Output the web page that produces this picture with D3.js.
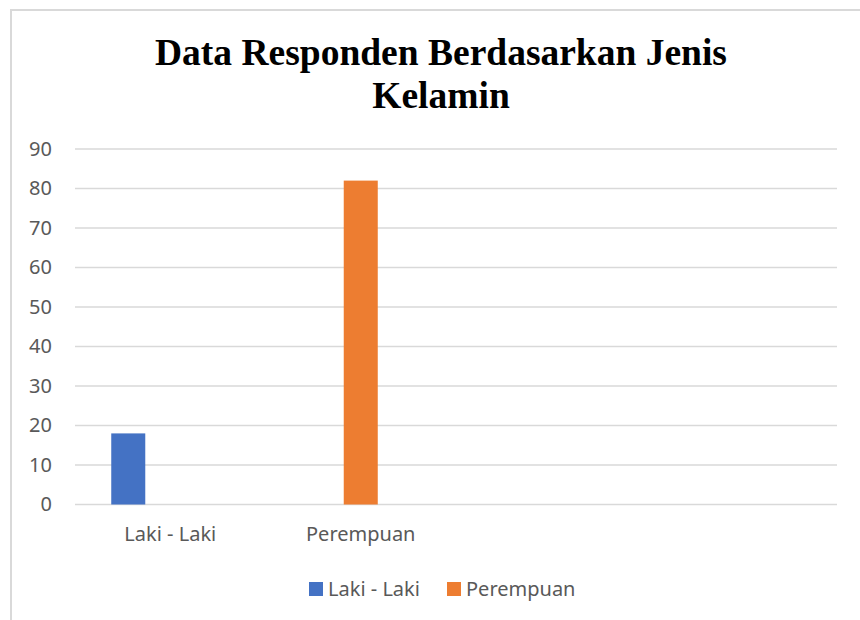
<!DOCTYPE html>
<html>
<head>
  <meta charset="utf-8">
  <title>Data Responden Berdasarkan Jenis Kelamin</title>
  <style>
    body { margin: 0; background: #fff; }
    svg { display: block; }
  </style>
</head>
<body>
<div id="chart"></div>
<script src="https://cdn.jsdelivr.net/npm/d3@7"></script>
<script>
// categories on the x axis (the last two are empty in the original sheet)
const categories = ["Laki - Laki", "Perempuan", "", ""];
// series shown in the legend
const seriesNames = ["Laki - Laki", "Perempuan"];
// values per category for each series
const lakiValues = [18, 0, 0, 0];
const perempuanValues = [0, 82, 0, 0];
const yTicks = [0, 10, 20, 30, 40, 50, 60, 70, 80, 90];
const titleLines = ["Data Responden Berdasarkan Jenis", "Kelamin"];

const colors = { "Laki - Laki": "#4472c4", "Perempuan": "#ed7d31" };
const W = 860, H = 620;
const margin = { top: 149, bottom: 115.5, left: 75, right: 23 };

const svg = d3.select("#chart").append("svg")
  .attr("width", W)
  .attr("height", H);

// chart frame (only top/left edges are visible in the crop)
svg.append("rect")
  .attr("x", 11).attr("y", 10)
  .attr("width", W + 20).attr("height", H + 20)
  .attr("fill", "#fff")
  .attr("stroke", "#d9d9d9")
  .attr("stroke-width", 2);

//******* title *******
svg.append("text")
  .attr("text-anchor", "middle")
  .style("font-family", "'Liberation Serif', 'Times New Roman', serif")
  .style("font-weight", "bold")
  .style("font-size", "37.5px")
  .attr("fill", "#000")
  .selectAll("tspan")
  .data(titleLines)
  .join("tspan")
  .attr("x", 441)
  .attr("y", (d, i) => 65 + i * 43)
  .text(d => d);

//******* scales *******
const x = d3.scaleBand()
  .domain(d3.range(categories.length))
  .range([margin.left, W - margin.right]);

// three slots per category, like the workbook's clustered layout
const slot = d3.scaleBand()
  .domain([0, 1, 2])
  .range([-59, 59])
  .paddingInner(0.19);

const y = d3.scaleLinear()
  .domain([0, 90])
  .range([H - margin.bottom, margin.top]);

//******* gridlines + y labels *******
svg.append("g")
  .selectAll("line")
  .data(yTicks)
  .join("line")
  .attr("x1", margin.left)
  .attr("x2", W - margin.right)
  .attr("y1", d => y(d))
  .attr("y2", d => y(d))
  .attr("stroke", "#d9d9d9")
  .attr("stroke-width", 1.5);

const yAxis = svg.append("g")
  .attr("transform", `translate(${margin.left - 23},0)`)
  .call(d3.axisLeft(y).tickValues(yTicks).tickSize(0).tickPadding(0));
yAxis.select(".domain").remove();
yAxis.selectAll("text")
  .style("font-family", "'Noto Sans', 'Open Sans', sans-serif")
  .style("font-size", "20px")
  .attr("fill", "#595959");

//******* x labels *******
const xAxis = svg.append("g")
  .attr("transform", `translate(0,${H - margin.bottom})`)
  .call(d3.axisBottom(x).tickSize(0).tickPadding(22).tickFormat(i => categories[i]));
xAxis.select(".domain").remove();
xAxis.selectAll("text")
  .style("font-family", "'Noto Sans', 'Open Sans', sans-serif")
  .style("font-size", "20px")
  .attr("fill", "#595959");

//******* bars *******
const seriesValues = [lakiValues, perempuanValues];
seriesNames.forEach(function(name, s) {
  svg.append("g")
    .selectAll("rect")
    .data(seriesValues[s].map((v, i) => ({ i: i, v: v })).filter(d => d.v > 0))
    .join("rect")
    .attr("x", d => x(d.i) + x.bandwidth() / 2 + slot(s))
    .attr("width", slot.bandwidth())
    .attr("y", d => y(d.v))
    .attr("height", d => y(0) - y(d.v))
    .attr("fill", colors[name]);
});

//******* legend *******
const legendX = [309, 447];
const legend = svg.append("g")
  .selectAll("g")
  .data(seriesNames)
  .join("g")
  .attr("transform", (d, i) => `translate(${legendX[i]},582)`);
legend.append("rect")
  .attr("width", 14).attr("height", 14)
  .attr("fill", d => colors[d]);
legend.append("text")
  .attr("x", 19).attr("y", 7)
  .attr("dy", "0.35em")
  .style("font-family", "'Noto Sans', 'Open Sans', sans-serif")
  .style("font-size", "20px")
  .attr("fill", "#595959")
  .text(d => d);
</script>
</body>
</html>
